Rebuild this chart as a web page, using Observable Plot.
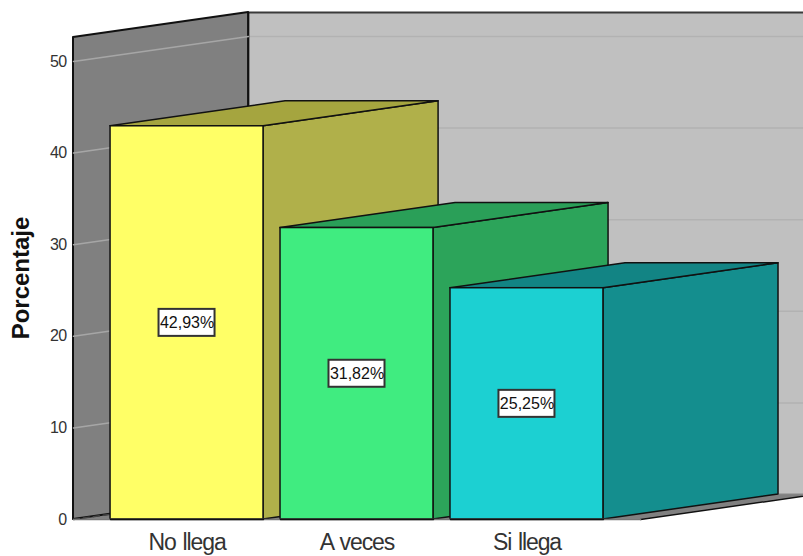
<!DOCTYPE html>
<html>
<head>
<meta charset="utf-8">
<script src="https://cdn.jsdelivr.net/npm/d3@7"></script>
<script src="https://cdn.jsdelivr.net/npm/@observablehq/plot@0.6"></script>
<style>
  html, body { margin: 0; padding: 0; background: #fff; overflow: hidden; }
  g[aria-label="y-axis tick label"] { letter-spacing: -0.6px; }
  g[aria-label="x-axis tick label"] { letter-spacing: -1.1px; word-spacing: 1.5px; }
  g[aria-label="value label"] { letter-spacing: -1px; }
</style>
</head>
<body>
<div id="chart"></div>
<script>
// Distribution of responses, shown as an extruded 3D bar chart.
const categories = ["No llega", "A veces", "Si llega"];
const percentages = [42.93, 31.82, 25.25];
const frontColors = ["#ffff66", "#40ec80", "#1cd0d2"];
const sideColors = ["#b0b04a", "#2ca45a", "#148e8e"];
const topColors = ["#a5a53f", "#2a9f58", "#128484"];
const yTicks = [0, 10, 20, 30, 40, 50];

// Extrusion vector, in axis units, and the box the bars stand in.
const depthX = 1.03;
const depthY = 2.73;
const halfBar = 0.45;
const wallLeft = -0.668;
const wallRight = 2.668;
const wallTop = 52.62;

const ink = "#111";

// Parallelogram with vertical ends, for side faces and walls.
const sideFace = (x, v0, v1, fill, stroke = ink, strokeWidth = 1.5) =>
  Plot.areaY(
    [{x, y1: v0, y2: v1}, {x: x + depthX, y1: v0 + depthY, y2: v1 + depthY}],
    {x: "x", y1: "y1", y2: "y2", fill, stroke, strokeWidth}
  );

// Parallelogram with horizontal ends, for top faces and the floor.
const flatFace = (x0, x1, v, fill, stroke = ink, strokeWidth = 1.5) =>
  Plot.areaX(
    [{y: v, x1: x0, x2: x1}, {y: v + depthY, x1: x0 + depthX, x2: x1 + depthX}],
    {y: "y", x1: "x1", x2: "x2", fill, stroke, strokeWidth}
  );

const walls = [
  // back wall
  Plot.rect([0], {
    x1: wallLeft + depthX, x2: wallRight + depthX,
    y1: depthY, y2: wallTop + depthY, fill: "#c0c0c0"
  }),
  Plot.ruleY(yTicks.slice(1), {
    y: (d) => d + depthY,
    x1: wallLeft + depthX, x2: wallRight + depthX,
    stroke: "#b2b2b2", strokeWidth: 1.5
  }),
  Plot.line(
    [{x: wallLeft + depthX, y: wallTop + depthY}, {x: wallRight + depthX, y: wallTop + depthY}],
    {x: "x", y: "y", stroke: "#3a3a3a", strokeWidth: 2}
  ),
  Plot.line(
    [{x: wallLeft + depthX, y: depthY}, {x: wallLeft + depthX, y: wallTop + depthY}],
    {x: "x", y: "y", stroke: ink, strokeWidth: 1.5}
  ),
  // floor
  flatFace(wallLeft, wallRight, 0, "#808080", "#8a8a8a", 1),
  Plot.line(
    [{x: wallRight, y: 0}, {x: wallRight + depthX, y: depthY}],
    {x: "x", y: "y", stroke: ink, strokeWidth: 1.5}
  ),
  // left wall
  sideFace(wallLeft, 0, wallTop, "#808080", ink, 2),
  ...yTicks.slice(1).map((t) =>
    Plot.line(
      [{x: wallLeft, y: t}, {x: wallLeft + depthX, y: t + depthY}],
      {x: "x", y: "y", stroke: "#a6a6a6", strokeWidth: 1.5}
    )
  ),
  Plot.line(
    [{x: wallLeft, y: 0}, {x: wallLeft + depthX, y: depthY}],
    {x: "x", y: "y", stroke: "#444", strokeWidth: 1.5, strokeDasharray: "6 4"}
  )
];

// Bars are painted left to right so each one covers the side of the previous.
const bars = categories.flatMap((c, i) => {
  const v = percentages[i];
  return [
    sideFace(i + halfBar, 0, v, sideColors[i]),
    flatFace(i - halfBar, i + halfBar, v, topColors[i]),
    Plot.rect([v], {
      x1: i - halfBar, x2: i + halfBar, y1: 0, y2: v,
      fill: frontColors[i], stroke: ink, strokeWidth: 1.5
    })
  ];
});

const valueLabels = percentages.map((v, i) => ({
  x: i,
  y: v / 2,
  text: v.toFixed(2).replace(".", ",") + "%"
}));

const chart = Plot.plot({
  width: 803,
  height: 556,
  marginLeft: 73,
  marginRight: 163,
  marginTop: 12,
  marginBottom: 37,
  style: {background: "#fff", fontFamily: "'Liberation Sans', Arial, sans-serif", overflow: "hidden"},
  x: {type: "linear", domain: [wallLeft, wallRight]},
  y: {type: "linear", domain: [0, wallTop + depthY]},
  marks: [
    ...walls,
    ...bars,
    // front edge of the floor
    Plot.line(
      [{x: wallLeft, y: 0}, {x: wallRight, y: 0}],
      {x: "x", y: "y", stroke: "#777", strokeWidth: 1.5}
    ),
    ...categories.map((c, i) =>
      Plot.line(
        [{x: i - halfBar, y: 0}, {x: i + halfBar, y: 0}],
        {x: "x", y: "y", stroke: ink, strokeWidth: 1.5}
      )
    ),
    Plot.rect(valueLabels, {
      x1: "x", x2: "x", y1: "y", y2: "y",
      insetLeft: -28, insetRight: -28, insetTop: -13.5, insetBottom: -13.5,
      fill: "#fff", stroke: "#333", strokeWidth: 2
    }),
    Plot.text(valueLabels, {
      x: "x", y: "y", text: "text", fontSize: 16, fill: "#111", ariaLabel: "value label"
    }),
    Plot.axisY({
      ticks: yTicks, tickSize: 0, tickPadding: 7, label: null,
      fontSize: 16, color: "#333"
    }),
    Plot.axisX({
      ticks: [0, 1, 2], tickFormat: (d) => categories[d], tickSize: 0, tickPadding: 14,
      label: null, fontSize: 23, color: "#333"
    }),
    Plot.text(["Porcentaje"], {
      frameAnchor: "left", textAnchor: "middle", rotate: -90, dx: -52, dy: 12,
      text: (d) => d, fontSize: 24, fontWeight: "bold", fill: "#111"
    })
  ]
});

document.getElementById("chart").appendChild(chart);
</script>
</body>
</html>
